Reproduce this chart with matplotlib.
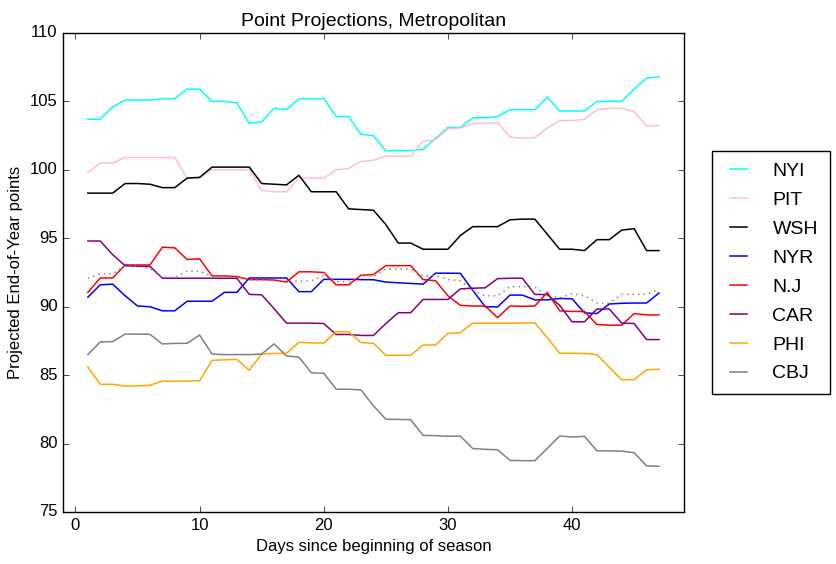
# -*- coding: utf-8 -*-
"""Projected end-of-year points for the Metropolitan division."""

import matplotlib

matplotlib.use("Agg")
import matplotlib.pyplot as plt
import numpy as np

plt.style.use("classic")
matplotlib.rcParams["font.family"] = ["Liberation Sans", "DejaVu Sans"]
matplotlib.rcParams["figure.facecolor"] = "white"
matplotlib.rcParams["savefig.facecolor"] = "white"

days = np.arange(1, 48)

teams = ["NYI", "PIT", "WSH", "NYR", "N.J", "CAR", "PHI", "CBJ"]
colors = ["cyan", "pink", "black", "blue", "red", "purple", "orange", "gray"]

nyi = [103.7, 103.7, 104.6, 105.1, 105.1, 105.1, 105.2, 105.2, 105.9, 105.9,
       105.0, 105.0, 104.9, 103.4, 103.5, 104.5, 104.4, 105.2, 105.2, 105.2,
       103.9, 103.9, 102.6, 102.5, 101.4, 101.4, 101.4, 101.5, 102.3, 103.1,
       103.1, 103.8, 103.8, 103.9, 104.4, 104.4, 104.4, 105.3, 104.3, 104.3,
       104.3, 105.0, 105.0, 105.0, 105.9, 106.7, 106.8]
pit = [99.8, 100.5, 100.5, 100.9, 100.9, 100.9, 100.9, 100.9, 99.4, 99.4,
       100.0, 100.0, 100.0, 100.0, 98.5, 98.4, 98.4, 99.4, 99.4, 99.4,
       100.0, 100.1, 100.6, 100.7, 101.0, 101.0, 101.0, 102.1, 102.2, 103.0,
       103.05, 103.4, 103.4, 103.45, 102.4, 102.3, 102.35, 103.05, 103.6, 103.6,
       103.7, 104.4, 104.5, 104.5, 104.25, 103.2, 103.25]
wsh = [98.3, 98.3, 98.3, 99.0, 99.0, 98.95, 98.7, 98.7, 99.4, 99.45,
       100.2, 100.2, 100.2, 100.2, 99.0, 98.95, 98.9, 99.6, 98.4, 98.4,
       98.4, 97.15, 97.1, 97.05, 96.0, 94.65, 94.65, 94.2, 94.2, 94.2,
       95.2, 95.85, 95.85, 95.85, 96.35, 96.4, 96.4, 95.3, 94.2, 94.2,
       94.1, 94.9, 94.9, 95.6, 95.7, 94.1, 94.1]
nyr = [90.7, 91.6, 91.65, 90.8, 90.05, 90.0, 89.7, 89.7, 90.4, 90.4,
       90.4, 91.05, 91.05, 92.1, 92.1, 92.1, 92.1, 91.1, 91.1, 92.0,
       92.0, 92.0, 91.98, 91.97, 91.8, 91.75, 91.7, 91.65, 92.45, 92.45,
       92.44, 91.2, 90.0, 89.98, 90.85, 90.85, 90.5, 90.5, 90.6, 90.58,
       89.55, 89.5, 90.2, 90.25, 90.27, 90.27, 91.0]
nj = [91.05, 92.1, 92.1, 93.05, 93.05, 93.05, 94.35, 94.3, 93.45, 93.5,
      92.25, 92.25, 92.2, 91.98, 91.98, 91.95, 91.8, 92.55, 92.55, 92.5,
      91.6, 91.6, 92.3, 92.35, 93.0, 93.0, 93.0, 91.98, 91.9, 90.8,
      90.1, 90.05, 90.05, 89.2, 90.05, 90.03, 90.05, 91.05, 89.7, 89.65,
      89.65, 88.7, 88.65, 88.65, 89.5, 89.4, 89.4]
car = [94.8, 94.8, 93.8, 93.0, 92.95, 92.95, 92.08, 92.08, 92.08, 92.08,
       92.08, 92.08, 92.08, 90.9, 90.87, 89.86, 88.8, 88.8, 88.8, 88.77,
       87.97, 87.97, 87.9, 87.9, 88.77, 89.56, 89.56, 90.53, 90.53, 90.53,
       91.3, 91.35, 91.38, 92.05, 92.08, 92.08, 90.9, 90.88, 90.1, 88.9,
       88.9, 89.83, 89.83, 88.8, 88.77, 87.6, 87.6]
phi = [85.6, 84.33, 84.33, 84.2, 84.22, 84.25, 84.57, 84.55, 84.57, 84.6,
       86.08, 86.12, 86.15, 85.36, 86.54, 86.58, 86.6, 87.4, 87.35, 87.35,
       88.17, 88.17, 87.38, 87.33, 86.45, 86.45, 86.45, 87.2, 87.2, 88.05,
       88.1, 88.8, 88.8, 88.8, 88.8, 88.8, 88.82, 87.75, 86.6, 86.6,
       86.58, 86.5, 85.58, 84.66, 84.66, 85.4, 85.43]
cbj = [86.5, 87.43, 87.45, 88.0, 88.0, 87.98, 87.28, 87.32, 87.33, 87.93,
       86.54, 86.5, 86.5, 86.5, 86.54, 87.28, 86.4, 86.32, 85.17, 85.14,
       83.97, 83.97, 83.92, 82.76, 81.78, 81.76, 81.75, 80.6, 80.58, 80.53,
       80.55, 79.64, 79.58, 79.55, 78.77, 78.75, 78.75, 79.64, 80.55, 80.48,
       80.53, 79.47, 79.47, 79.45, 79.33, 78.37, 78.34]
# unlabelled dotted reference line
cutoff = [92.08, 92.4, 92.4, 93.0, 92.95, 92.8, 92.15, 92.15, 92.6, 92.6,
          92.2, 92.2, 92.17, 91.97, 91.95, 91.95, 91.86, 91.86, 91.9, 92.27,
          91.83, 91.83, 92.27, 92.2, 92.75, 92.75, 92.75, 92.27, 92.27, 91.98,
          91.9, 91.18, 90.8, 90.8, 91.47, 91.47, 91.43, 90.82, 90.65, 90.94,
          90.8, 90.27, 90.27, 90.9, 90.9, 90.9, 91.26]


def main() -> None:
    series = [nyi, pit, wsh, nyr, nj, car, phi, cbj]

    fig = plt.figure(figsize=(8.37, 5.64), dpi=100)
    ax = fig.add_axes([0.0753, 0.0922, 0.7417, 0.8493])

    for name, color, values in zip(teams, colors, series):
        ax.plot(days, values, color=color, linewidth=1.1, label=name)
    ax.plot(days, cutoff, color="gray", linestyle=":", linewidth=1.1, label="_nolegend_")

    ax.set_xlim(-1, 49)
    ax.set_ylim(75, 110)
    ax.set_xticks([0, 10, 20, 30, 40])
    ax.set_title("Point Projections, Metropolitan", fontsize=14)
    ax.set_xlabel("Days since beginning of season", fontsize=12)
    ax.set_ylabel("Projected End-of-Year points", fontsize=12)
    ax.tick_params(labelsize=12)

    ax.legend(loc="center left", bbox_to_anchor=(1.03, 0.5), fontsize=14,
              handlelength=1.5, handletextpad=1.0, labelspacing=0.58,
              borderpad=0.6)

    fig.savefig("out.png", dpi=100)
    plt.close(fig)


if __name__ == "__main__":
    main()
